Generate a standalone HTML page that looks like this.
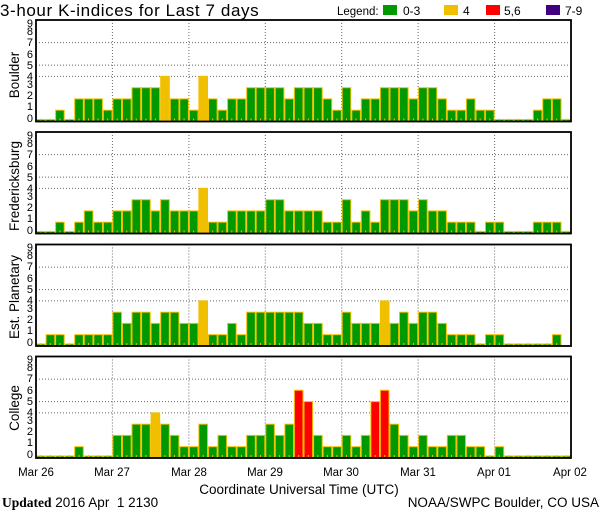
<!DOCTYPE html>
<html><head><meta charset="utf-8"><style>
html,body{margin:0;padding:0;background:#fff;}
svg{display:block;font-family:"Liberation Sans",sans-serif;}
</style></head><body>
<svg id="c" width="600" height="510" xmlns="http://www.w3.org/2000/svg">
<text x="0" y="16" font-size="17" letter-spacing="0.6">3-hour K-indices for Last 7 days</text>
<text x="337" y="15" font-size="11.5">Legend:</text>
<rect x="383" y="5" width="14" height="10" fill="#009900"/>
<text x="403" y="15" font-size="12">0-3</text>
<rect x="444" y="5" width="14" height="10" fill="#f0c000"/>
<text x="463" y="15" font-size="12">4</text>
<rect x="486" y="5" width="14" height="10" fill="#ff0000"/>
<text x="504" y="15" font-size="12">5,6</text>
<rect x="546" y="5" width="14" height="10" fill="#400080"/>
<text x="565" y="15" font-size="12">7-9</text>

<g font-size="13.5" text-anchor="middle">
<text transform="translate(19,75) rotate(-90)">Boulder</text>
<text transform="translate(19,186) rotate(-90)">Fredericksburg</text>
<text transform="translate(19,297) rotate(-90)">Est. Planetary</text>
<text transform="translate(19,408) rotate(-90)">College</text>
</g>

<g font-size="11" text-anchor="end">
<text x="33" y="122">0</text><text x="33" y="110">1</text><text x="33" y="99">2</text><text x="33" y="88">3</text><text x="33" y="80">4</text><text x="33" y="69">5</text><text x="33" y="58">6</text><text x="33" y="46">7</text><text x="33" y="35">8</text><text x="33" y="27">9</text>
<text x="33" y="234">0</text><text x="33" y="222">1</text><text x="33" y="211">2</text><text x="33" y="200">3</text><text x="33" y="192">4</text><text x="33" y="181">5</text><text x="33" y="170">6</text><text x="33" y="158">7</text><text x="33" y="147">8</text><text x="33" y="139">9</text>
<text x="33" y="346">0</text><text x="33" y="334">1</text><text x="33" y="323">2</text><text x="33" y="312">3</text><text x="33" y="304">4</text><text x="33" y="293">5</text><text x="33" y="282">6</text><text x="33" y="270">7</text><text x="33" y="259">8</text><text x="33" y="251">9</text>
<text x="33" y="458">0</text><text x="33" y="446">1</text><text x="33" y="435">2</text><text x="33" y="424">3</text><text x="33" y="416">4</text><text x="33" y="405">5</text><text x="33" y="394">6</text><text x="33" y="382">7</text><text x="33" y="371">8</text><text x="33" y="363">9</text>
</g>

<g font-size="11.5" text-anchor="middle">
<text x="36" y="476">Mar 26</text>
<text x="112" y="476">Mar 27</text>
<text x="189" y="476">Mar 28</text>
<text x="265" y="476">Mar 29</text>
<text x="341" y="476">Mar 30</text>
<text x="418" y="476">Mar 31</text>
<text x="494" y="476">Apr 01</text>
<text x="570" y="476">Apr 02</text>
</g>
<text x="299" y="494" font-size="13.5" text-anchor="middle">Coordinate Universal Time (UTC)</text>
<text x="2" y="507" font-size="13.5"><tspan font-family="Liberation Serif" font-weight="bold">Updated</tspan> 2016 Apr &#160;1 2130</text>
<text x="599" y="507" font-size="13.5" text-anchor="end">NOAA/SWPC Boulder, CO USA</text>
<g id="plots"></g>
</svg>
<script>
var data=[
[0,0,1,0,2,2,2,1, 2,2,3,3,3,4,2,2, 1,4,2,1,2,2,3,3, 3,3,2,3,3,3,2,1, 3,1,2,2,3,3,3,2, 3,3,2,1,1,2,1,1, 0,0,0,0,1,2,2,0],
[0,0,1,0,1,2,1,1, 2,2,3,3,2,3,2,2, 2,4,1,1,2,2,2,2, 3,3,2,2,2,2,1,1, 3,1,2,1,3,3,3,2, 3,2,2,1,1,1,0,1, 1,0,0,0,1,1,1,0],
[0,1,1,0,1,1,1,1, 3,2,3,3,2,3,3,2, 2,4,1,1,2,1,3,3, 3,3,3,3,2,2,1,1, 3,2,2,2,4,2,3,2, 3,3,2,1,1,1,0,1, 1,0,0,0,0,0,1,null],
[0,0,0,0,1,0,0,0, 2,2,3,3,4,3,2,1, 1,3,1,2,1,1,2,2, 3,2,3,6,5,2,1,1, 2,1,2,5,6,3,2,1, 2,1,1,2,2,1,1,0, 1,0,0,0,0,0,0,0]];
var tops=[20,132,244.5,356.5],H=101.5,U=H/9,X0=36,X1=571,BW=(X1-X0)/56;
var s='';
for(var p=0;p<4;p++){
 var T=tops[p],B=T+H;
 [4,5,7].forEach(function(v){var y=(B-v*U).toFixed(1);s+='<line x1="'+X0+'" x2="'+X1+'" y1="'+y+'" y2="'+y+'" stroke="#666" stroke-dasharray="1,2"/>';});
 for(var d=1;d<7;d++){var x=(X0+d*8*BW).toFixed(1);s+='<line x1="'+x+'" x2="'+x+'" y1="'+T+'" y2="'+B+'" stroke="#666" stroke-dasharray="1,2"/>';}
 for(var i=0;i<56;i++){
  var v=data[p][i];if(v===null)continue;
  var x=X0+i*BW,h=v===0?2:v*U;
  var f=v<=3?'#009900':v==4?'#f0c000':v<=6?'#ff0000':'#400080';
  s+='<rect x="'+(x+0.5).toFixed(1)+'" y="'+(B-h).toFixed(1)+'" width="'+(BW-1).toFixed(1)+'" height="'+h.toFixed(1)+'" fill="'+f+'" stroke="#f0c000" stroke-width="1"/>';
  s+='<rect x="'+(x+BW/2-0.5).toFixed(1)+'" y="'+(B-3)+'" width="1" height="2" fill="#f0c000"/>';
 }
 s+='<rect x="'+X0+'" y="'+T+'" width="'+(X1-X0)+'" height="'+H+'" fill="none" stroke="#000" stroke-width="1.8"/>';
}
document.getElementById('plots').innerHTML=s;
</script>
</body></html>
